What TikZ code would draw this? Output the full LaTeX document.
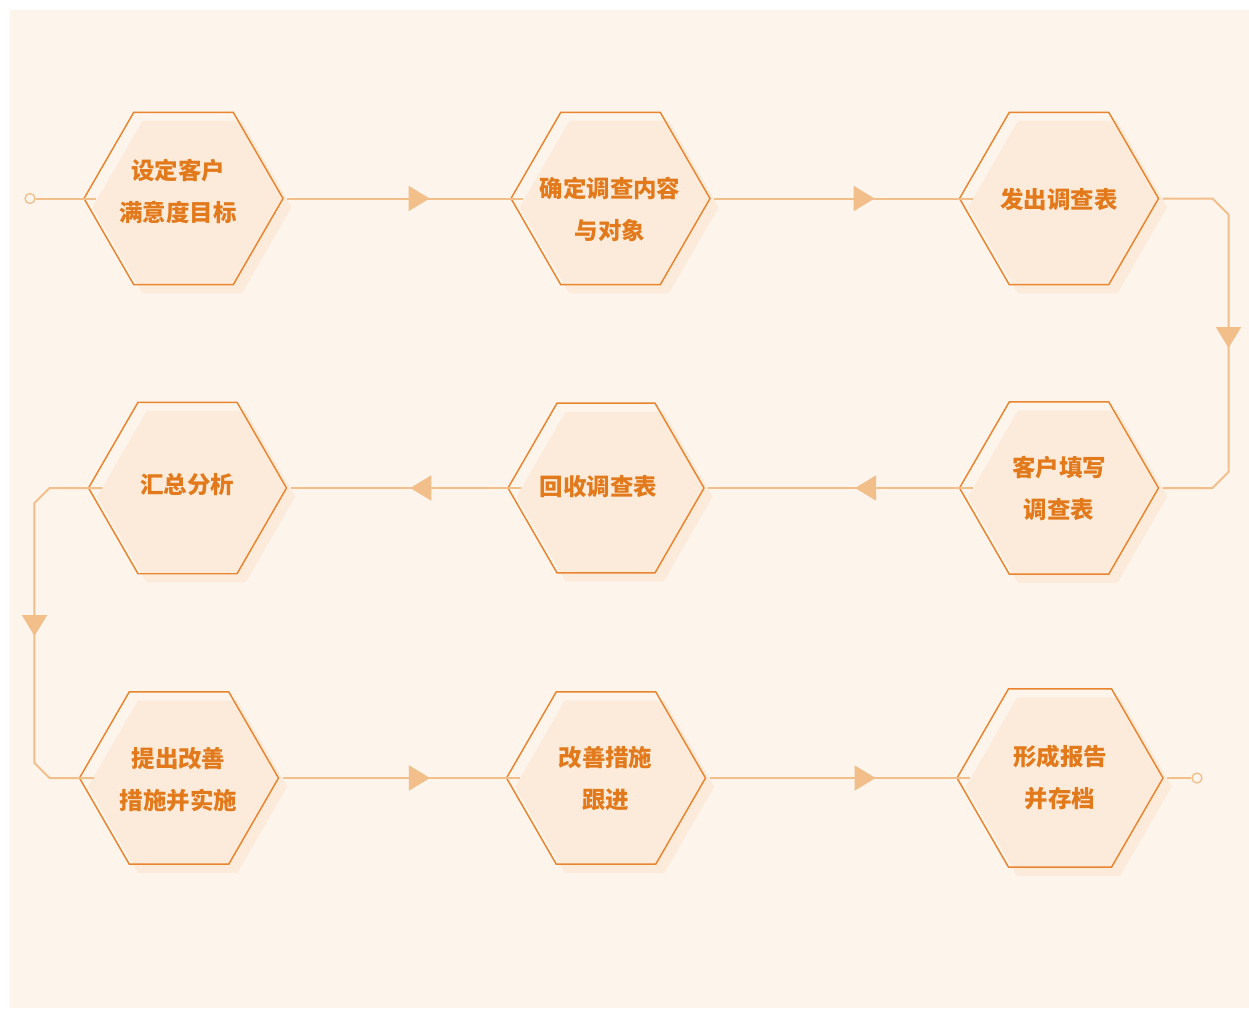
\documentclass[tikz,border=0pt]{standalone}
\usepackage{fontspec}
\newfontfamily\cjk{Noto Sans CJK SC}
\usepackage{tikz}
\usetikzlibrary{shapes.geometric,shadows,arrows.meta,decorations.markings}

\definecolor{bgcol}{HTML}{FDF4EB}
\definecolor{hexline}{HTML}{E9852E}
\definecolor{hexfill}{HTML}{FCEBDB}
\definecolor{linecol}{HTML}{F2BE8A}
\definecolor{txtcol}{HTML}{E27A1C}

\begin{document}
\begin{tikzpicture}[x=0.75pt,y=0.75pt,yscale=-1,xscale=1,
  hexbox/.style={regular polygon,regular polygon sides=6,minimum size=149.25pt,inner sep=0pt,outer sep=0pt,
    draw=hexline,line width=1.1pt,general shadow={fill=hexfill,shadow xshift=6.5pt,shadow yshift=-6.5pt}},
  txt/.style={font=\cjk\bfseries\fontsize{17.6pt}{31.5pt}\selectfont,text=txtcol,align=center,inner sep=0pt},
  conn/.style={draw=linecol,line width=1.5pt},
  endpt/.style={circle,draw=linecol,fill=bgcol,line width=1pt,minimum size=7.5pt,inner sep=0pt},
  midarrow/.style={decoration={markings,mark=at position #1 with {\arrow{Triangle[length=15.75pt,width=18.75pt]}}},postaction={decorate}}]
\useasboundingbox (0,0) rectangle (1249,1010);

%Shape: Background
\fill[bgcol] (10,10) rectangle (1249,1008);

%Shape: Hexagons
\node[hexbox] (h1) at (183.5,198.5) {};
\node[hexbox] (h2) at (610.5,198.5) {};
\node[hexbox] (h3) at (1059,198.5) {};
\node[hexbox,minimum size=148.5pt] (h4) at (187.5,488) {};
\node[hexbox,minimum size=147pt] (h5) at (606,488) {};
\node[hexbox] (h6) at (1059,488) {};
\node[hexbox] (h7) at (179,778) {};
\node[hexbox] (h8) at (606,778) {};
\node[hexbox,minimum size=154.5pt] (h9) at (1060,778) {};

%Shape: Circles
\node[endpt] (s) at (30,198.5) {};
\node[endpt] (e) at (1197,778) {};

%Straight Lines
\draw[conn] (s) -- ([xshift=9pt]h1.west);
\draw[conn,midarrow=106.9pt] ([xshift=3pt]h1.east) -- ([xshift=9pt]h2.west);
\draw[conn,midarrow=120.4pt] ([xshift=3pt]h2.east) -- ([xshift=9.75pt]h3.west);
\draw[conn,midarrow=154.6pt] ([xshift=3pt]h3.east) -- ++(50,0) -- ++(16,16) -- ++(0,257.5) -- ++(-16,16) -- ([xshift=3pt]h6.east);
\draw[conn,midarrow=88pt] ([xshift=9.75pt]h6.west) -- ([xshift=3pt]h5.east);
\draw[conn,midarrow=83pt] ([xshift=9.75pt]h5.west) -- ([xshift=3pt]h4.east);
\draw[conn,midarrow=155.4pt] ([xshift=10.5pt]h4.west) -- ++(-53,0) -- ++(-15,15) -- ++(0,260) -- ++(15,15) -- ([xshift=11pt]h7.west);
\draw[conn,midarrow=110.6pt] ([xshift=3pt]h7.east) -- ([xshift=9.75pt]h8.west);
\draw[conn,midarrow=124.5pt] ([xshift=3pt]h8.east) -- ([xshift=9.75pt]h9.west);
\draw[conn] ([xshift=3pt]h9.east) -- (e);

% Text Node
\node[txt] (t1) at (178,191) {设定客户\\满意度目标};
% Text Node
\node[txt] (t2) at (610,209) {确定调查内容\\与对象};
% Text Node
\node[txt] (t3) at (1059,199) {发出调查表};
% Text Node
\node[txt] (t4) at (187,485) {汇总分析};
% Text Node
\node[txt] (t5) at (598.5,487) {回收调查表};
% Text Node
\node[txt] (t6) at (1059,488.5) {客户填写\\调查表};
% Text Node
\node[txt] (t7) at (178.5,780) {提出改善\\措施并实施};
% Text Node
\node[txt] (t8) at (605.5,778.5) {改善措施\\跟进};
% Text Node
\node[txt] (t9) at (1060,777.5) {形成报告\\并存档};

\end{tikzpicture}
\end{document}
